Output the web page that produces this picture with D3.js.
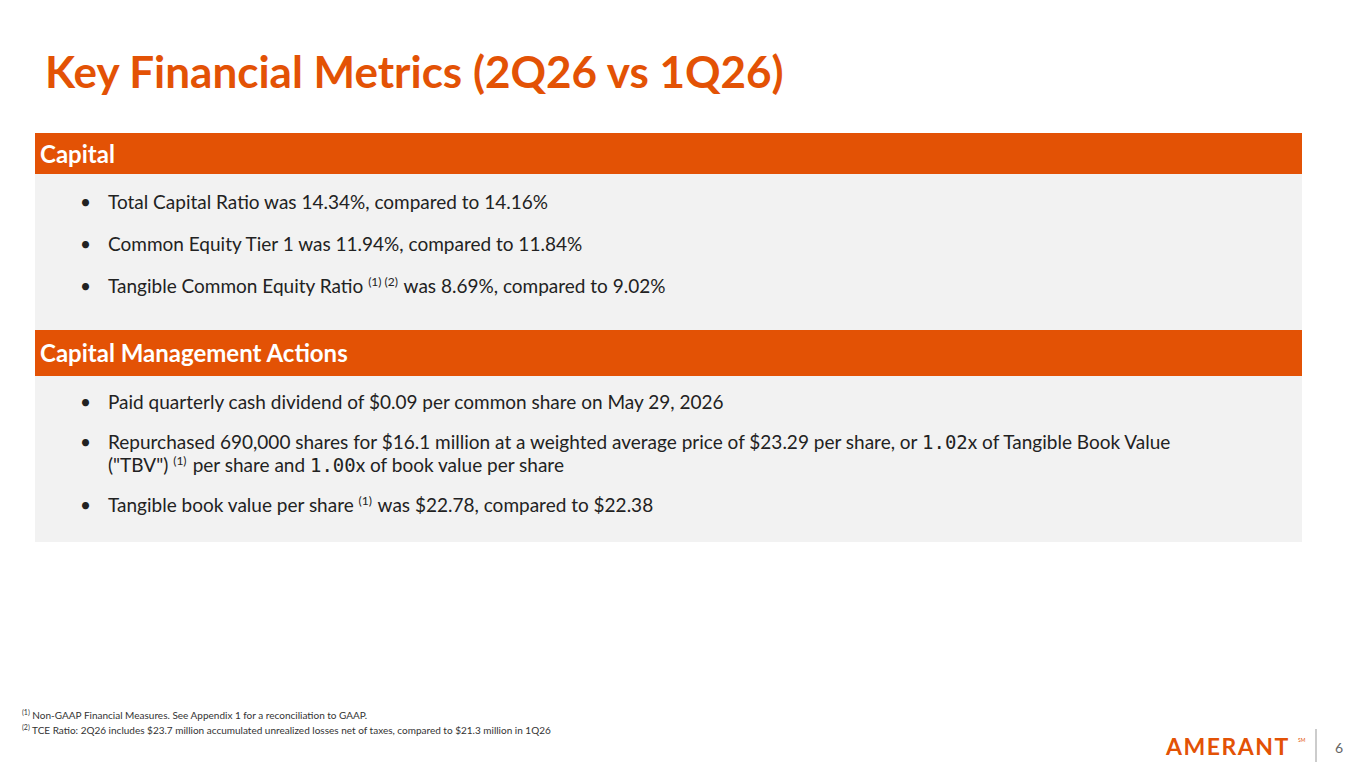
<!DOCTYPE html>
<html>
<head>
<meta charset="utf-8">
<script src="https://cdn.jsdelivr.net/npm/d3@7"></script>
<style>
  body { margin: 0; background: #fff; }
  svg { display: block; font-family: Lato, "Open Sans", sans-serif; }
</style>
</head>
<body>
<svg id="chart"></svg>
<script>
const W = 1365, H = 768;
const orange = "#E35205";

// slide text
const title = "Key Financial Metrics (2Q26 vs 1Q26)";
const sectionNames = ["Capital", "Capital Management Actions"];
// ^...^ = superscript, `...` = monospace
const capitalBullets = [
    ["Total Capital Ratio was 14.34%, compared to 14.16%"],
    ["Common Equity Tier 1 was 11.94%, compared to 11.84%"],
    ["Tangible Common Equity Ratio ^(1) (2)^ was 8.69%, compared to 9.02%"]
];
const actionBullets = [
    ["Paid quarterly cash dividend of $0.09 per common share on May 29, 2026"],
    ["Repurchased 690,000 shares for $16.1 million at a weighted average price of $23.29 per share, or `1.02`x of Tangible Book Value",
     "(\"TBV\") ^(1)^ per share and `1.00`x of book value per share"],
    ["Tangible book value per share ^(1)^ was $22.78, compared to $22.38"]
];
const footnotes = [
    ["(1)", " Non-GAAP Financial Measures. See Appendix 1 for a reconciliation to GAAP."],
    ["(2)", " TCE Ratio: 2Q26 includes $23.7 million accumulated unrealized losses net of taxes, compared to $21.3 million in 1Q26"]
];
const pageNumber = "6";

const svg = d3.select("#chart").attr("width", W).attr("height", H);

svg.append("text")
    .attr("x", 45).attr("y", 88)
    .attr("font-size", 44).attr("font-weight", 700)
    .attr("fill", orange)
    .text(title);

// section layout
const sections = [
    {name: sectionNames[0], top: 133, bottom: 330, bullets: capitalBullets, firstY: 209, gap: 42},
    {name: sectionNames[1], top: 330, bottom: 542, bullets: actionBullets, firstY: 409, gap: 40}
];

function writeLine(textSel, line) {
    const parts = line.split(/(\^[^^]*\^|`[^`]*`)/).filter(p => p.length);
    parts.forEach(p => {
        if (p.startsWith("^")) {
            textSel.append("tspan").attr("font-size", 12).attr("dy", -7).text(p.slice(1, -1));
            textSel.append("tspan").attr("dy", 7).text("\u200A");
        } else if (p.startsWith("`")) {
            textSel.append("tspan").attr("font-family", "DejaVu Sans Mono, monospace").text(p.slice(1, -1));
        } else {
            textSel.append("tspan").text(p);
        }
    });
}

sections.forEach(s => {
    const g = svg.append("g");
    g.append("rect").attr("x", 35).attr("y", s.top + 41).attr("width", 1267)
        .attr("height", s.bottom - s.top - 41).attr("fill", "#F2F2F2");
    g.append("rect").attr("x", 35).attr("y", s.top).attr("width", 1267)
        .attr("height", s.name === sectionNames[1] ? 46 : 41).attr("fill", orange);
    g.append("text").attr("x", 40).attr("y", s.top + (s.name === sectionNames[1] ? 32 : 30))
        .attr("font-size", 24).attr("font-weight", 700).attr("fill", "#fff").text(s.name);

    let y = s.firstY;
    s.bullets.forEach(lines => {
        g.append("text").attr("x", 80).attr("y", y).attr("font-size", 19).attr("fill", "#222").text("\u2022");
        lines.forEach((line, i) => {
            const t = g.append("text").attr("x", 108).attr("y", y + i * 23)
                .attr("font-size", 19).attr("fill", "#222");
            writeLine(t, line);
        });
        y += s.gap + (lines.length - 1) * 23;
    });
});

// footnotes
footnotes.forEach((f, i) => {
    const t = svg.append("text").attr("x", 22).attr("y", 719 + i * 15)
        .attr("font-size", 10).attr("fill", "#333");
    t.append("tspan").attr("font-size", 7).attr("dy", -4).text(f[0]);
    t.append("tspan").attr("dy", 4).text(f[1]);
});

// logo + page number
svg.append("text").attr("x", 1166).attr("y", 755)
    .attr("font-size", 23).attr("font-weight", 700).attr("letter-spacing", 1.5)
    .attr("fill", orange).text("AMERANT");
svg.append("text").attr("x", 1298).attr("y", 742).attr("font-size", 5).attr("fill", orange).text("SM");
svg.append("line").attr("x1", 1316).attr("x2", 1316).attr("y1", 729).attr("y2", 762)
    .attr("stroke", "#bbb").attr("stroke-width", 1.5);
svg.append("text").attr("x", 1335).attr("y", 753).attr("font-size", 14).attr("fill", "#666").text(pageNumber);
</script>
</body>
</html>
